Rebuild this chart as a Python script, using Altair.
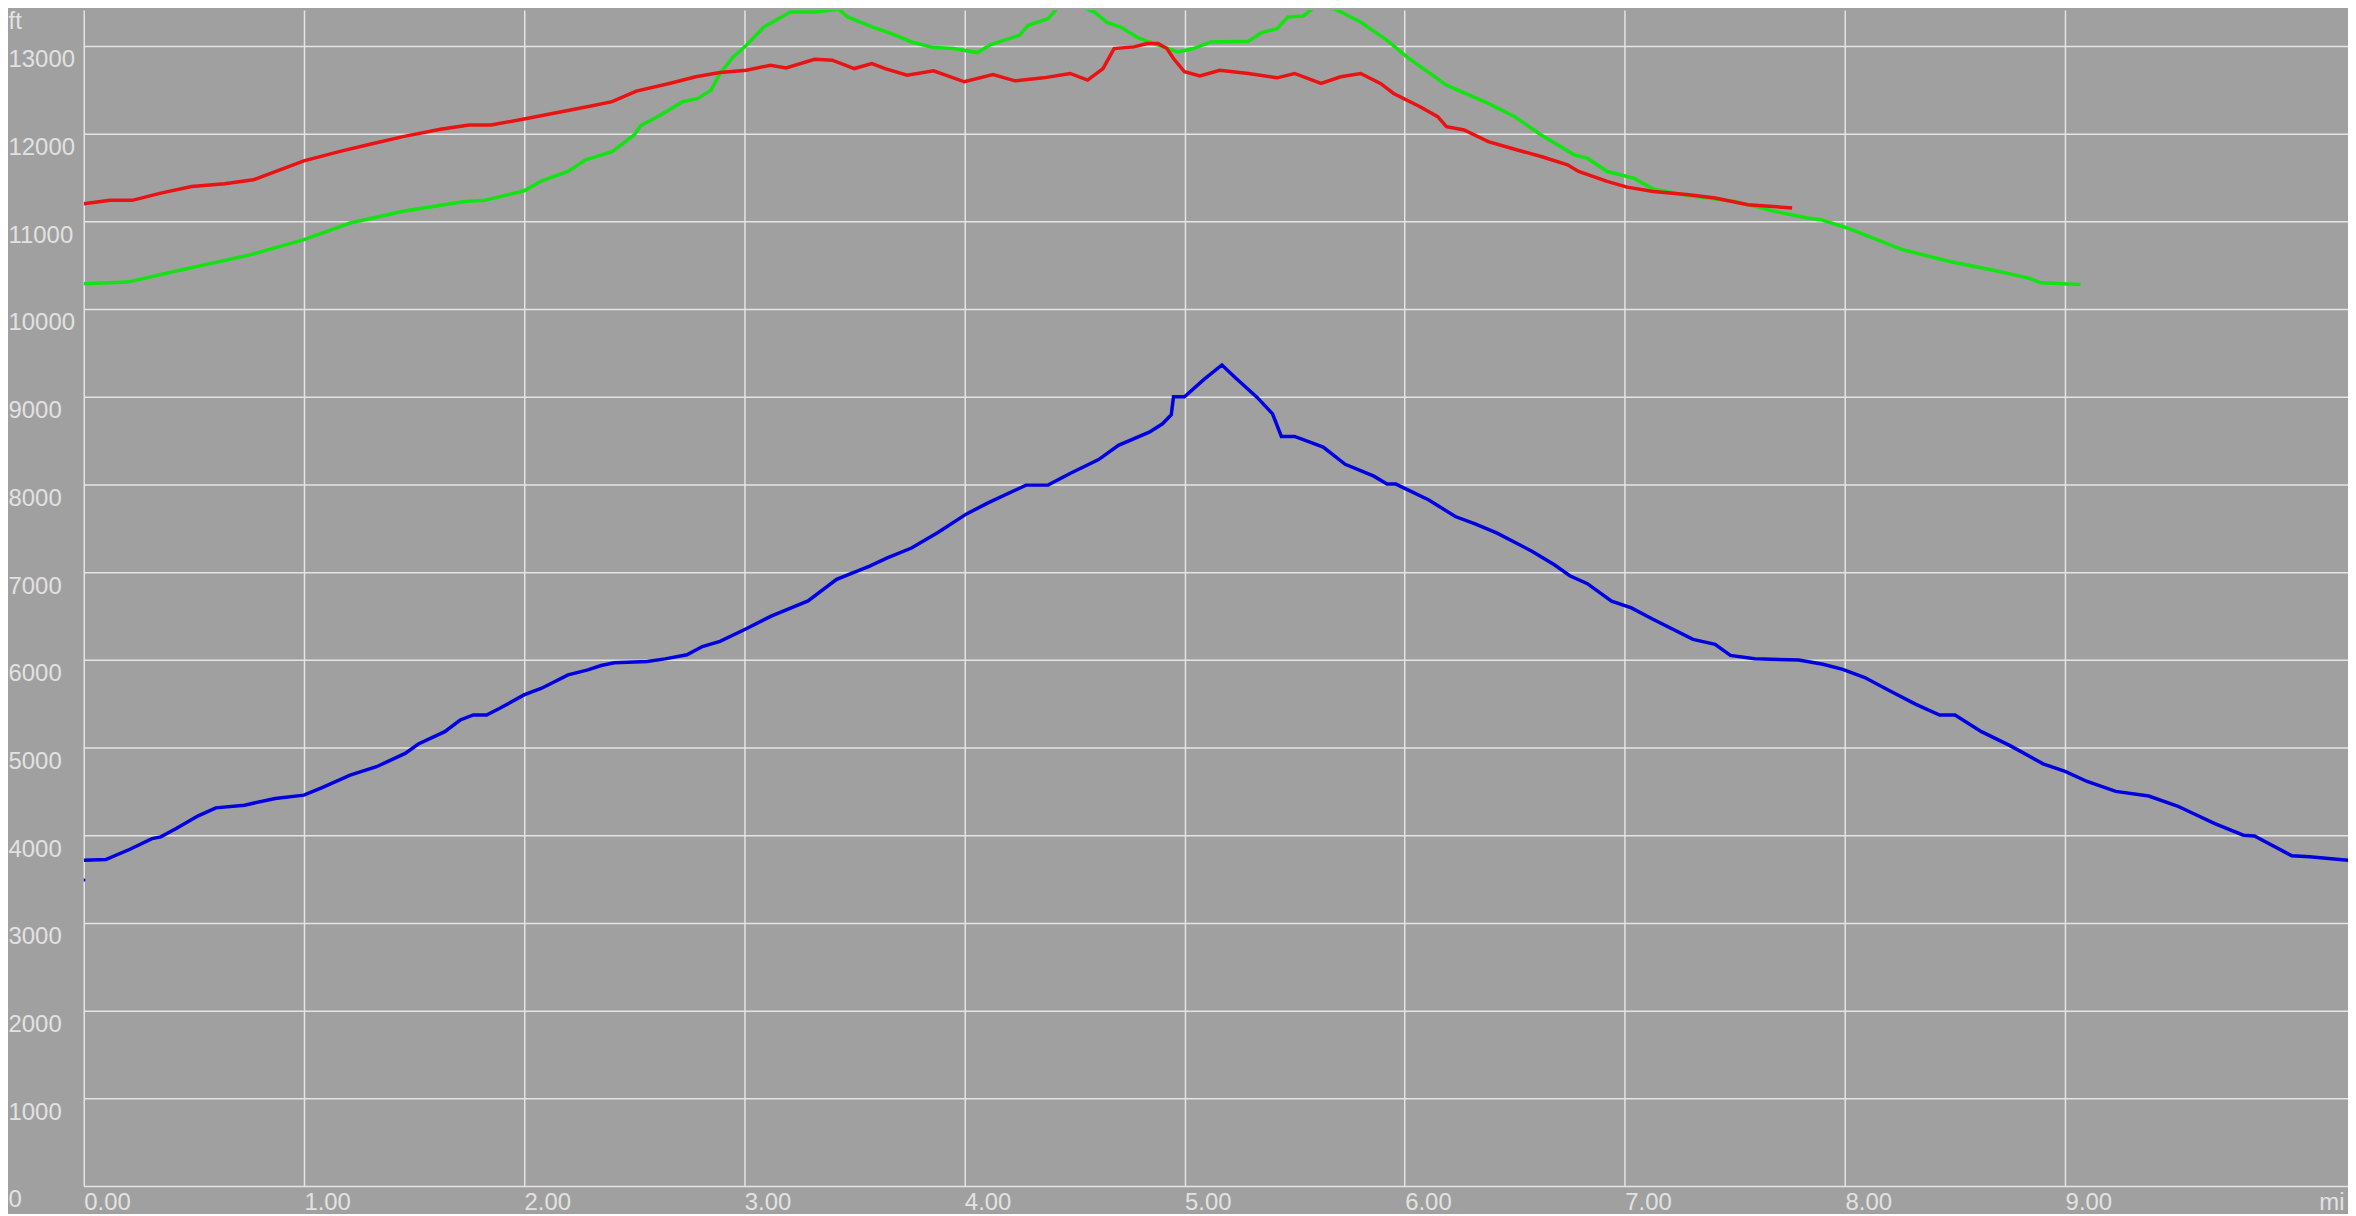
import altair as alt
import pandas as pd

# --- data (distance in miles, elevation in feet) ---
blue_mi = [0.00, 0.10, 0.21, 0.31, 0.35, 0.42, 0.52, 0.60, 0.73, 0.87, 1.00, 1.08, 1.21, 1.33, 1.46, 1.52,
           1.64, 1.71, 1.77, 1.83, 1.89, 2.00, 2.08, 2.20, 2.29, 2.35, 2.41, 2.56, 2.64, 2.74, 2.81, 2.89,
           3.00, 3.12, 3.29, 3.42, 3.57, 3.65, 3.76, 3.88, 4.01, 4.11, 4.28, 4.38, 4.48, 4.61, 4.70, 4.84,
           4.90, 4.94, 4.95, 5.00, 5.09, 5.17, 5.23, 5.33, 5.40, 5.44, 5.50, 5.63, 5.73, 5.86, 5.92, 5.96,
           6.11, 6.23, 6.32, 6.42, 6.58, 6.68, 6.75, 6.83, 6.94, 7.03, 7.13, 7.31, 7.41, 7.48, 7.59, 7.79,
           7.90, 7.99, 8.09, 8.19, 8.32, 8.43, 8.50, 8.62, 8.75, 8.90, 9.00, 9.10, 9.23, 9.38, 9.51, 9.68,
           9.81, 9.86, 10.03, 10.11, 10.285]
blue_ft = [3714, 3722, 3840, 3962, 3981, 4076, 4221, 4312, 4343, 4419, 4457, 4541, 4686, 4781, 4933, 5040,
           5181, 5314, 5371, 5371, 5448, 5600, 5676, 5829, 5886, 5935, 5966, 5981, 6011, 6057, 6152, 6210,
           6343, 6495, 6672, 6917, 7068, 7162, 7275, 7453, 7664, 7792, 7992, 7992, 8125, 8283, 8445, 8596,
           8691, 8796, 9000, 9000, 9200, 9362, 9219, 8992, 8804, 8547, 8547, 8426, 8230, 8094, 8004, 8004,
           7823, 7634, 7550, 7444, 7236, 7084, 6959, 6868, 6668, 6592, 6460, 6233, 6176, 6051, 6013, 5998,
           5949, 5892, 5798, 5665, 5495, 5370, 5370, 5181, 5022, 4814, 4727, 4613, 4500, 4447, 4333, 4133,
           4000, 3992, 3765, 3754, 3716]

red_mi = [0.00, 0.12, 0.22, 0.35, 0.49, 0.64, 0.77, 0.87, 1.00, 1.16, 1.30, 1.45, 1.62, 1.75, 1.85, 2.00,
          2.17, 2.31, 2.40, 2.51, 2.66, 2.78, 2.89, 3.01, 3.12, 3.19, 3.32, 3.40, 3.50, 3.58, 3.64, 3.74,
          3.86, 4.00, 4.13, 4.23, 4.36, 4.48, 4.56, 4.63, 4.68, 4.77, 4.83, 4.88, 4.92, 4.95, 5.00, 5.07,
          5.16, 5.29, 5.42, 5.50, 5.62, 5.71, 5.80, 5.89, 5.95, 6.07, 6.15, 6.19, 6.27, 6.38, 6.50, 6.62,
          6.74, 6.79, 6.92, 7.01, 7.13, 7.29, 7.41, 7.56, 7.76]
red_ft = [11201, 11239, 11239, 11322, 11398, 11428, 11473, 11568, 11689, 11795, 11879, 11966, 12049, 12098,
          12098, 12167, 12250, 12318, 12364, 12485, 12572, 12648, 12697, 12723, 12780, 12750, 12848, 12837,
          12742, 12799, 12742, 12667, 12716, 12591, 12674, 12602, 12636, 12686, 12610, 12742, 12970, 12989,
          13027, 13027, 12970, 12856, 12705, 12659, 12723, 12686, 12636, 12686, 12572, 12648, 12686, 12572,
          12458, 12307, 12193, 12080, 12042, 11909, 11822, 11739, 11644, 11568, 11455, 11390, 11341, 11303,
          11265, 11189, 11152]

green_mi = [0.00, 0.20, 0.43, 0.75, 1.00, 1.21, 1.45, 1.73, 1.82, 2.00, 2.08, 2.20, 2.28, 2.40, 2.50, 2.53,
            2.62, 2.72, 2.79, 2.85, 2.89, 2.95, 3.01, 3.09, 3.21, 3.32, 3.43, 3.47, 3.58, 3.67, 3.76, 3.86,
            3.95, 4.06, 4.12, 4.25, 4.29, 4.38, 4.44, 4.50, 4.59, 4.65, 4.71, 4.79, 4.86, 4.97, 5.04, 5.12,
            5.29, 5.35, 5.42, 5.47, 5.54, 5.59, 5.68, 5.80, 5.92, 6.01, 6.19, 6.38, 6.50, 6.62, 6.77, 6.83,
            6.92, 7.04, 7.13, 7.29, 7.50, 7.68, 7.83, 7.89, 8.01, 8.26, 8.47, 8.68, 8.83, 8.89, 9.07]
green_ft = [10288, 10307, 10439, 10614, 10792, 10981, 11114, 11227, 11239, 11348, 11462, 11568, 11701, 11795,
            11985, 12091, 12212, 12364, 12402, 12496, 12686, 12875, 13008, 13216, 13386, 13386, 13417, 13330,
            13216, 13140, 13045, 12981, 12970, 12924, 13015, 13121, 13235, 13311, 13481, 13481, 13386, 13265,
            13216, 13091, 13027, 12932, 12970, 13045, 13053, 13152, 13197, 13330, 13341, 13443, 13424, 13273,
            13064, 12875, 12553, 12345, 12193, 11985, 11758, 11720, 11568, 11492, 11367, 11295, 11227, 11114,
            11038, 11019, 10924, 10678, 10545, 10439, 10356, 10299, 10280]

stray_mi = [0.0]
stray_ft = [3490]

series_names = ["green", "red", "blue"]
series_colors = ["#12e412", "#ea1212", "#0000e0"]

x_ticks = [0, 1, 2, 3, 4, 5, 6, 7, 8, 9]
y_ticks = list(range(0, 14000, 1000))

rows = []
for name, xs, ys in [("green", green_mi, green_ft), ("red", red_mi, red_ft), ("blue", blue_mi, blue_ft)]:
    for i, (a, b) in enumerate(zip(xs, ys)):
        rows.append({"series": name, "mi": a, "ft": b, "i": i})
df = pd.DataFrame(rows)
stray = pd.DataFrame({"mi": stray_mi, "ft": stray_ft, "series": ["blue"]})

FONT = "Liberation Sans"
LBL = "#e2e2e2"

x_enc = alt.X("mi:Q",
              scale=alt.Scale(domain=[0, 10.285], nice=False, zero=False),
              axis=alt.Axis(values=x_ticks, format=".2f", title="mi",
                            labelAlign="left", labelBaseline="top", labelPadding=5,
                            titleAlign="right", titleBaseline="top", titleX=2268, titleY=5,
                            titleAngle=0))
y_enc = alt.Y("ft:Q",
              scale=alt.Scale(domain=[0, 13409], nice=False, zero=True),
              axis=alt.Axis(values=y_ticks, format="d", title="ft",
                            labelAlign="left", labelBaseline="top", labelPadding=76, labelOffset=2,
                            titleAngle=0, titleAlign="left", titleBaseline="top", titleX=-76, titleY=0))
color_enc = alt.Color("series:N", scale=alt.Scale(domain=series_names, range=series_colors), legend=None)

lines = alt.Chart(df).mark_line(strokeWidth=3.5, clip=True).encode(
    x=x_enc, y=y_enc, color=color_enc, detail="series:N", order="i:Q"
)
dot = alt.Chart(stray).mark_circle(size=12, opacity=1, clip=True).encode(
    x="mi:Q", y="ft:Q", color=color_enc
)

chart = (lines + dot).properties(
    width=2272, height=1180,
    autosize=alt.AutoSizeParams(type="none"),
    padding={"left": 76, "top": 0, "right": 0, "bottom": 26},
    background="#a0a0a0",
).configure_view(
    fill="#a0a0a0", stroke=None, strokeWidth=0
).configure_axis(
    domain=False, ticks=False, tickSize=0,
    grid=True, gridColor="#e4e4e4", gridWidth=1.5, gridOpacity=1,
    labelFont=FONT, labelFontSize=24, labelColor=LBL,
    titleFont=FONT, titleFontSize=24, titleColor=LBL, titleFontWeight="normal",
    labelOverlap=False, labelFlush=False,
)

chart.save("out.html", embed_options={"renderer": "svg", "actions": False})
